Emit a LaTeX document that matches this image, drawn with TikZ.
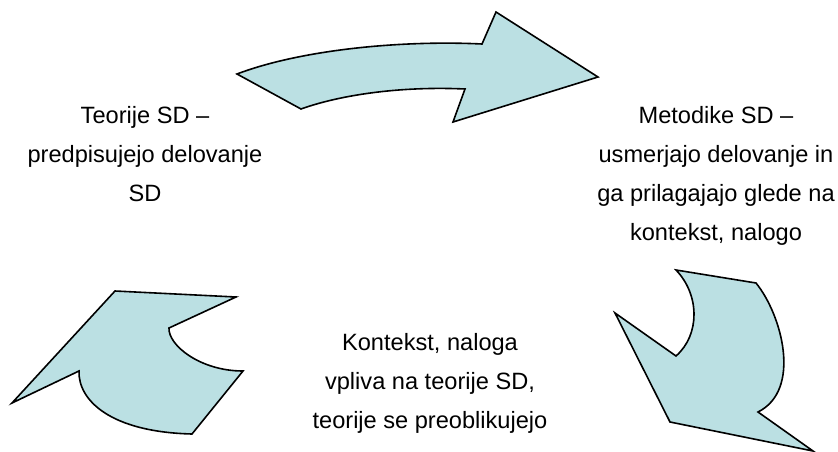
\documentclass[tikz,border=0pt]{standalone}
\usepackage{fontspec}
\setmainfont{Liberation Sans}
\begin{document}
\begin{tikzpicture}[x=1pt,y=-1pt,
  arrowshape/.style={draw=black, line width=1.6pt, line join=miter, fill=arrowfill},
  label/.style={align=center, anchor=base, inner sep=0pt, font=\fontsize{23.6}{39}\selectfont}]
\definecolor{arrowfill}{HTML}{BBE0E3}
\useasboundingbox (0,0) rectangle (838,452);
% top arrow
\draw[arrowshape] (237,74) .. controls (300,50) and (400,40) .. (482,44)
  -- (496,12) -- (598,77) -- (453,122) -- (465,89)
  .. controls (400,86) and (340,95) .. (301,109) -- cycle;
% bottom right arrow
\draw[arrowshape] (676,270) -- (756,283)
  .. controls (782,315) and (802,390) .. (758,412)
  -- (813,451) -- (670,422) -- (615,313) -- (676,356)
  .. controls (700,335) and (700,295) .. (676,270) -- cycle;
% bottom left arrow
\draw[arrowshape] (115,291) -- (236,297) -- (169,328)
  .. controls (168,345) and (200,371) .. (243,371)
  -- (192,434)
  .. controls (110,432) and (78,400) .. (79,371)
  -- (12,403) -- cycle;
% texts (base anchor = baseline of last line)
\node[label] (teorije) at (145,201) {Teorije SD --\\predpisujejo delovanje\\SD};
\node[label] (metodike) at (716,240) {Metodike SD --\\usmerjajo delovanje in\\ga prilagajajo glede na\\kontekst, nalogo};
\node[label] (kontekst) at (430,428) {Kontekst, naloga\\vpliva na teorije SD,\\teorije se preoblikujejo};
\end{tikzpicture}
\end{document}
